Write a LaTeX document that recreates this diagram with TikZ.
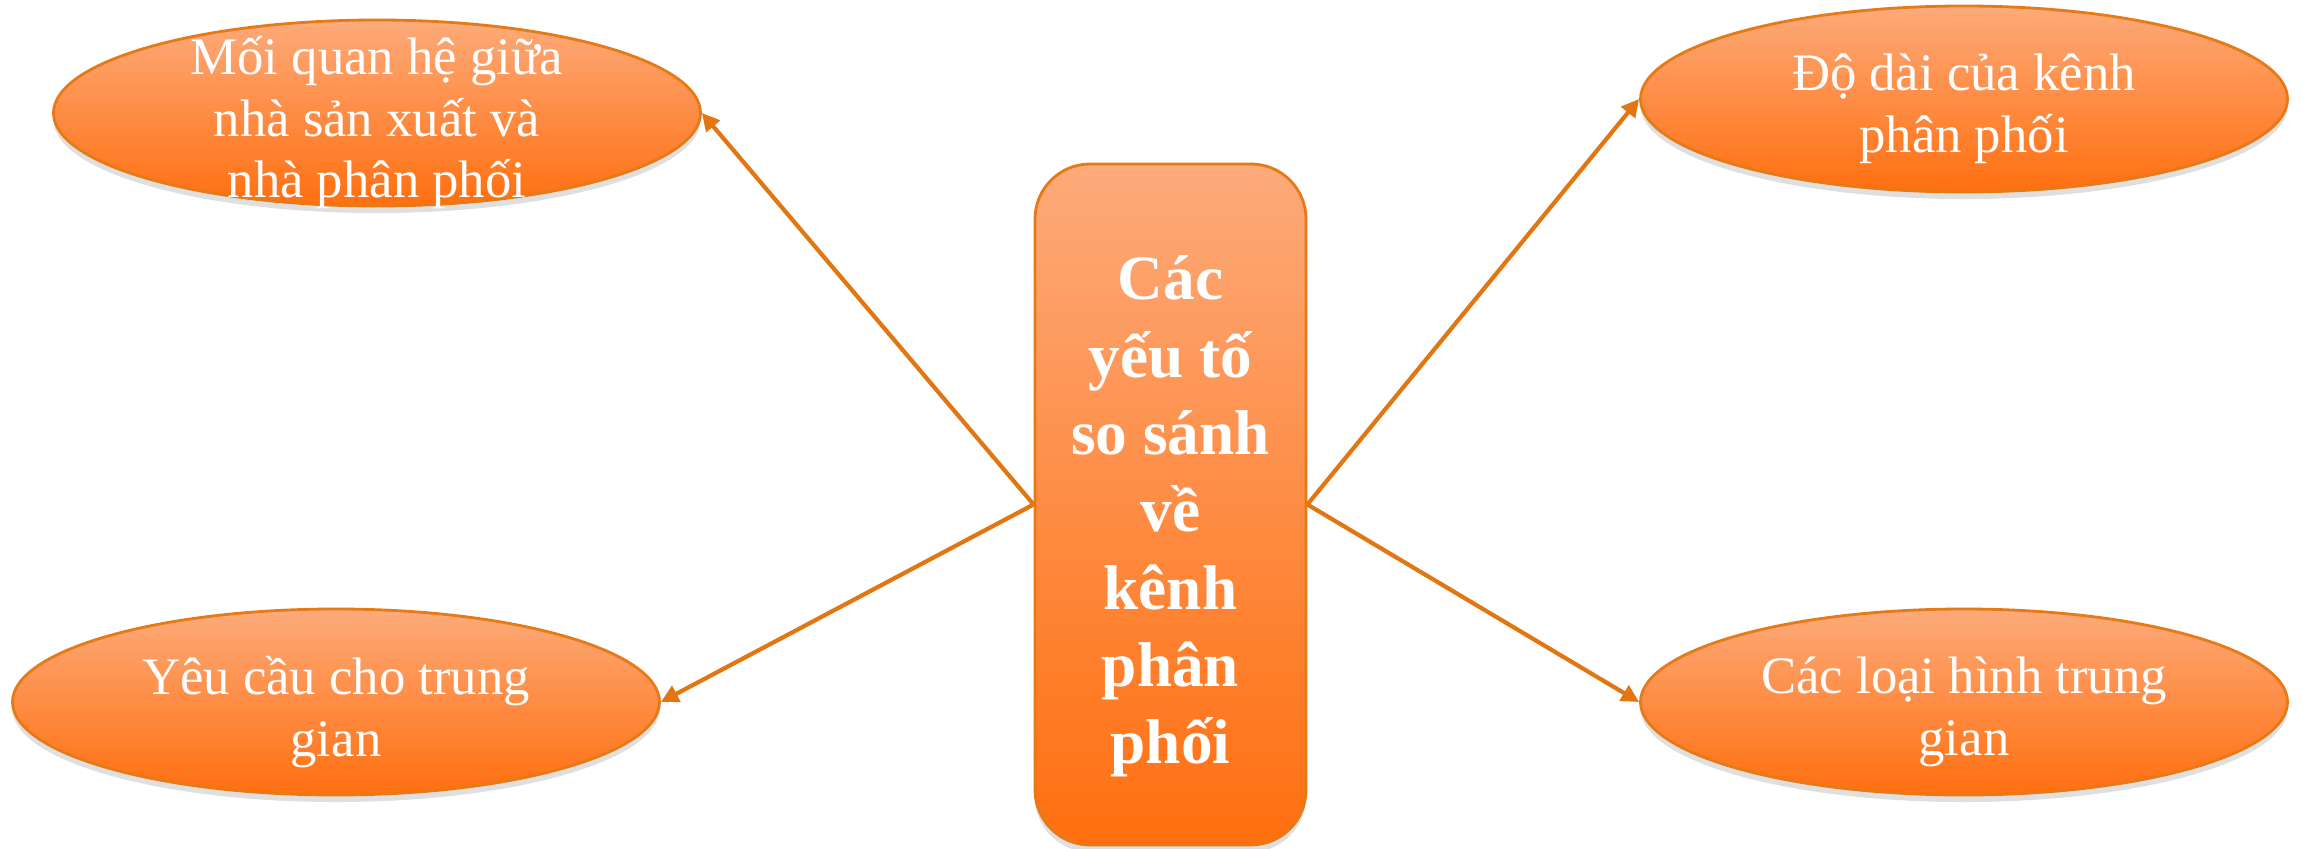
\documentclass[tikz,border=0pt]{standalone}
\usepackage{fontspec}
\setmainfont{Liberation Serif}
\usetikzlibrary{shapes.geometric,arrows.meta,shadows}
\definecolor{lightorange}{RGB}{253,170,122}
\definecolor{deeporange}{RGB}{255,111,15}
\definecolor{rimorange}{RGB}{230,122,22}
\definecolor{linkorange}{RGB}{226,118,18}

\begin{document}
\begin{tikzpicture}[
    bubble/.style={ellipse, draw=rimorange, line width=0.8pt, top color=lightorange, bottom color=deeporange, minimum width=6.47cm, minimum height=1.86cm, inner sep=0pt, drop shadow={shadow xshift=0pt, shadow yshift=-2pt, opacity=0.25}},
    bubbletext/.style={text=white, align=center, yshift=-0.1cm, font=\fontsize{15}{17.5}\selectfont},
    hubbox/.style={rectangle, rounded corners=0.55cm, draw=rimorange, line width=0.8pt, top color=lightorange, bottom color=deeporange, minimum width=2.71cm, minimum height=6.81cm, drop shadow={shadow xshift=0pt, shadow yshift=-2pt, opacity=0.25}},
    hubtext/.style={text=white, align=center, yshift=-0.12cm, font=\fontsize{18}{22}\selectfont\bfseries},
    link/.style={-{Triangle[length=5pt,width=5pt]}, draw=linkorange, line width=1.2pt}
  ]
    \useasboundingbox (0,0) rectangle (23.03,8.48);
    \node[hubbox, label={[hubtext]center:Các\\yếu tố\\so sánh\\về\\kênh\\phân\\phối}] (hub) at (11.705,3.435) {};
    \node[bubble, label={[bubbletext]center:Mối quan hệ giữa\\nhà sản xuất và\\nhà phân phối}] (relation) at (3.77,7.35) {};
    \node[bubble, label={[bubbletext]center:Yêu cầu cho trung\\gian}] (demand) at (3.36,1.46) {};
    \node[bubble, label={[bubbletext]center:Độ dài của kênh\\phân phối}] (length) at (19.64,7.49) {};
    \node[bubble, label={[bubbletext]center:Các loại hình trung\\gian}] (kinds) at (19.64,1.46) {};
    \draw[link] (hub.west) -- (relation.east);
    \draw[link] (hub.west) -- (demand.east);
    \draw[link] (hub.east) -- (length.west);
    \draw[link] (hub.east) -- (kinds.west);
  \end{tikzpicture}
\end{document}
